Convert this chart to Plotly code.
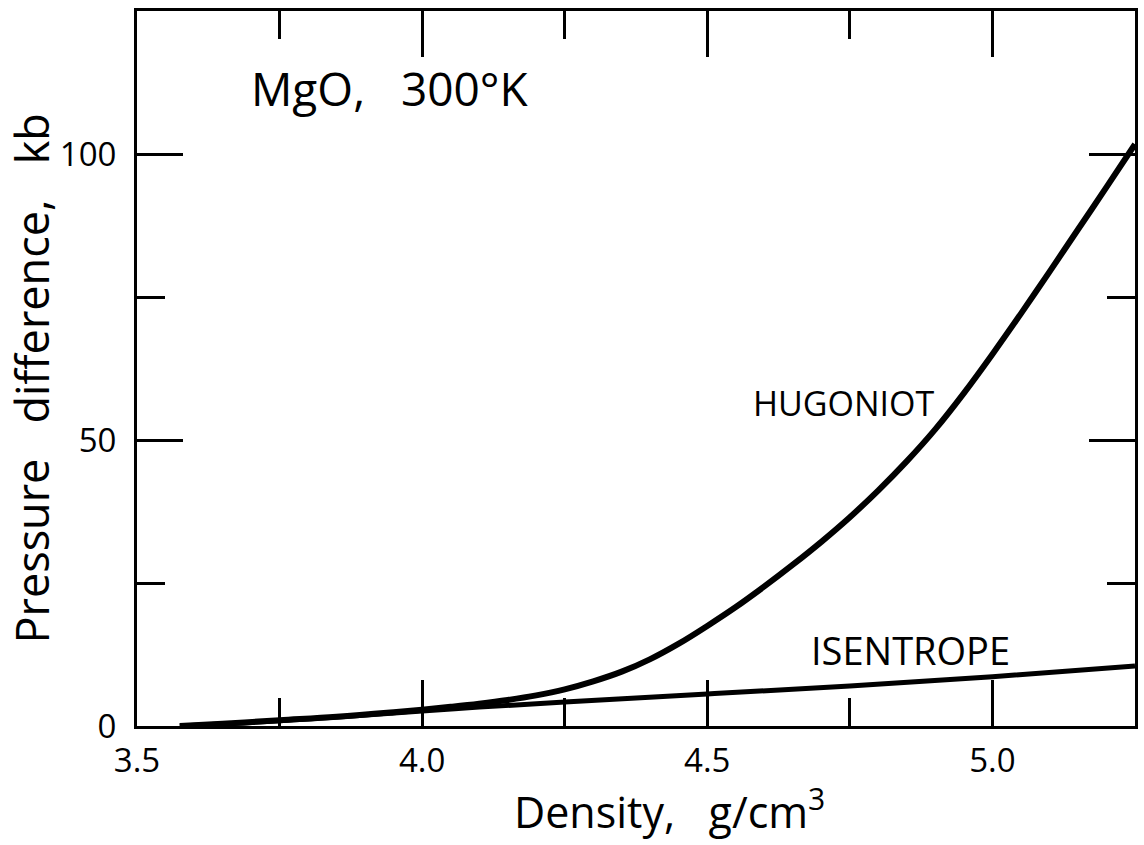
import plotly.graph_objects as go

# Data
hug_density = [3.575, 3.65, 3.75, 3.85, 3.95, 4.0, 4.05, 4.1, 4.15, 4.2, 4.25, 4.3, 4.35, 4.4, 4.45,
               4.5, 4.55, 4.6, 4.65, 4.7, 4.75, 4.8, 4.85, 4.9, 4.95, 5.0, 5.05, 5.1, 5.15, 5.2, 5.25]
hug_pressure = [0.0, 0.4, 1.0, 1.6, 2.4, 2.85, 3.35, 3.9, 4.55, 5.35, 6.4, 7.8, 9.5, 11.7, 14.4,
                17.5, 20.8, 24.4, 28.2, 32.2, 36.5, 41.2, 46.3, 51.9, 58.2, 65.0, 72.1, 79.4, 86.8, 94.2, 101.7]

isen_density = [3.575, 3.75, 4.0, 4.1, 4.25, 4.5, 4.75, 5.0, 5.25]
isen_pressure = [0.0, 0.9, 2.6, 3.3, 4.2, 5.6, 7.0, 8.6, 10.5]

x_ticks = [3.5, 4.0, 4.5, 5.0]
x_ticklabels = ["3.5", "4.0", "4.5", "5.0"]
y_ticks = [0, 50, 100]
y_ticklabels = ["0", "50", "100"]

FONT = "Open Sans"
BLACK = "black"

fig = go.Figure()
fig.add_trace(go.Scatter(x=hug_density, y=hug_pressure, mode="lines",
                         line=dict(color=BLACK, width=6, shape="spline", smoothing=1.1),
                         showlegend=False, hoverinfo="skip"))
fig.add_trace(go.Scatter(x=isen_density, y=isen_pressure, mode="lines",
                         line=dict(color=BLACK, width=5, shape="spline", smoothing=1.0),
                         showlegend=False, hoverinfo="skip"))

axis_common = dict(
    showgrid=False, zeroline=False,
    showline=True, linecolor=BLACK, linewidth=3, mirror="ticks",
    ticks="inside", ticklen=46, tickwidth=3, tickcolor=BLACK,
    tickfont=dict(family=FONT, size=33, color=BLACK),
)

fig.update_xaxes(
    range=[3.5, 5.25], tickvals=x_ticks, ticktext=x_ticklabels,
    minor=dict(dtick=0.25, tick0=3.5, ticks="inside", ticklen=28, tickwidth=3, tickcolor=BLACK),
    ticklabelstandoff=3,
    **axis_common,
)
fig.update_yaxes(
    range=[0, 125], tickvals=y_ticks, ticktext=y_ticklabels,
    minor=dict(dtick=25, tick0=0, ticks="inside", ticklen=28, tickwidth=3, tickcolor=BLACK),
    ticklabelstandoff=11,
    **axis_common,
)

# Axis titles (placed as annotations for exact positioning)
fig.add_annotation(xref="paper", yref="paper", x=0.5, y=0, xshift=33, yshift=-83,
                   text="Density,   g/cm<sup>3</sup>", showarrow=False,
                   xanchor="center", yanchor="middle",
                   font=dict(family=FONT, size=43, color=BLACK))
fig.add_annotation(xref="paper", yref="paper", x=0, y=0.5, xshift=-106, yshift=-10,
                   text="Pressure   difference,   kb", showarrow=False, textangle=-90,
                   xanchor="center", yanchor="middle",
                   font=dict(family=FONT, size=45, color=BLACK))

# In-plot labels
fig.add_annotation(x=3.942, y=111.5, text="MgO,   300°K", showarrow=False, xanchor="center",
                   font=dict(family=FONT, size=46, color=BLACK))
fig.add_annotation(x=4.739, y=56.5, text="HUGONIOT", showarrow=False, xanchor="center",
                   font=dict(family=FONT, size=34, color=BLACK))
fig.add_annotation(x=4.857, y=13.3, text="ISENTROPE", showarrow=False, xanchor="center",
                   font=dict(family=FONT, size=38, color=BLACK))

fig.update_layout(
    width=1144, height=845,
    margin=dict(l=137, r=6, t=11, b=119),
    paper_bgcolor="white", plot_bgcolor="white",
)

fig.write_html("out.html")
